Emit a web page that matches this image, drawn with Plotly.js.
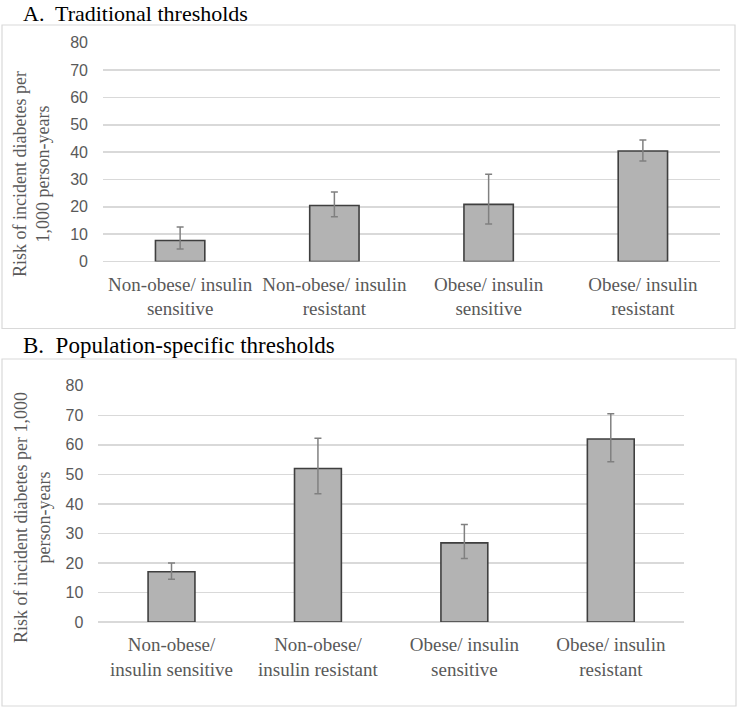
<!DOCTYPE html>
<html>
<head>
<meta charset="utf-8">
<script src="https://cdn.plot.ly/plotly-3.0.1.min.js"></script>
<style>html,body{margin:0;padding:0;background:#fff}#chart{width:738px;height:708px}</style>
</head>
<body>
<div id="chart"></div>
<script>
// Categories (tick labels)
const categoriesA = ["Non-obese/ insulin<br>sensitive", "Non-obese/ insulin<br>resistant", "Obese/ insulin<br>sensitive", "Obese/ insulin<br>resistant"];
const categoriesB = ["Non-obese/<br>insulin sensitive", "Non-obese/<br>insulin resistant", "Obese/ insulin<br>sensitive", "Obese/ insulin<br>resistant"];

// Panel A: traditional thresholds (risk per 1,000 person-years) with CI bounds
const riskA  = [7.7, 20.5, 20.9, 40.4];
const upperA = [12.6, 25.4, 31.9, 44.4];
const lowerA = [4.6, 16.4, 13.7, 36.8];

// Panel B: population-specific thresholds
const riskB  = [17.0, 52.0, 26.8, 62.0];
const upperB = [20.0, 62.2, 33.0, 70.5];
const lowerB = [14.5, 43.4, 21.5, 54.3];

const yTicks = [0, 10, 20, 30, 40, 50, 60, 70, 80];

const W = 738, H = 708;
const px = v => v / W;
const py = v => 1 - v / H;

function barTrace(cats, vals, up, lo, xa, ya) {
  return {
    type: 'bar', x: cats, y: vals, xaxis: xa, yaxis: ya, width: 0.32,
    marker: {color: '#b3b3b3', line: {color: '#3f3f3f', width: 1.6}},
    error_y: {type: 'data', symmetric: false,
      array: up.map((u, i) => u - vals[i]),
      arrayminus: lo.map((l, i) => vals[i] - l),
      color: '#808080', thickness: 1.5, width: 3.5},
    hoverinfo: 'skip', showlegend: false
  };
}

const data = [
  barTrace(categoriesA, riskA, upperA, lowerA, 'x', 'y'),
  barTrace(categoriesB, riskB, upperB, lowerB, 'x2', 'y2')
];

const serif = 'Liberation Serif, Times New Roman, serif';
const tickFontY = {family: 'Liberation Sans, Arial, sans-serif', size: 16, color: '#595959'};
const tickFontX = {family: serif, size: 19, color: '#595959'};

function yAxis(dom, anchor) {
  return {domain: dom, anchor: anchor, range: [0, 80], tickvals: yTicks, ticks: '',
    showgrid: true, gridcolor: '#d9d9d9', gridwidth: 1.5, zeroline: true, zerolinecolor: '#d9d9d9', zerolinewidth: 1.5,
    showline: false, tickfont: tickFontY, ticklabelstandoff: 14, fixedrange: true};
}
function xAxis(dom, anchor) {
  return {domain: dom, anchor: anchor, type: 'category', range: [-0.5, 3.5], ticks: '', showline: false,
    showgrid: false, tickfont: tickFontX, ticklabelstandoff: 9, tickangle: 0, fixedrange: true};
}

const layout = {
  width: W, height: H,
  margin: {l: 0, r: 0, t: 0, b: 0},
  paper_bgcolor: '#fff', plot_bgcolor: 'rgba(0,0,0,0)',
  xaxis: xAxis([px(103), px(720)], 'y'),
  yaxis: yAxis([py(261.5), py(42.8)], 'x'),
  xaxis2: xAxis([px(98.3), px(684)], 'y2'),
  yaxis2: yAxis([py(622), py(385.8)], 'x2'),
  shapes: [
    {type: 'rect', xref: 'paper', yref: 'paper', x0: px(2), x1: px(735), y0: py(25), y1: py(328.5), line: {color: '#d9d9d9', width: 1.2}},
    {type: 'rect', xref: 'paper', yref: 'paper', x0: px(2), x1: px(736), y0: py(359), y1: py(706), line: {color: '#d9d9d9', width: 1.2}}
  ],
  annotations: [
    {xref: 'paper', yref: 'paper', x: px(21), y: py(13), xanchor: 'left', yanchor: 'middle', showarrow: false,
     text: 'A.  Traditional thresholds', font: {family: serif, size: 22, color: '#000'}},
    {xref: 'paper', yref: 'paper', x: px(21), y: py(345), xanchor: 'left', yanchor: 'middle', showarrow: false,
     text: 'B.  Population-specific thresholds', font: {family: serif, size: 23, color: '#000'}},
    {xref: 'paper', yref: 'paper', x: px(31), y: py(174), xanchor: 'center', yanchor: 'middle', showarrow: false, textangle: -90,
     text: 'Risk of incident diabetes per<br>1,000 person-years', font: {family: serif, size: 18, color: '#595959'}},
    {xref: 'paper', yref: 'paper', x: px(32), y: py(518), xanchor: 'center', yanchor: 'middle', showarrow: false, textangle: -90,
     text: 'Risk of incident diabetes per 1,000<br>person-years', font: {family: serif, size: 18, color: '#595959'}}
  ]
};

Plotly.newPlot('chart', data, layout, {staticPlot: true, displayModeBar: false});
</script>
</body>
</html>
